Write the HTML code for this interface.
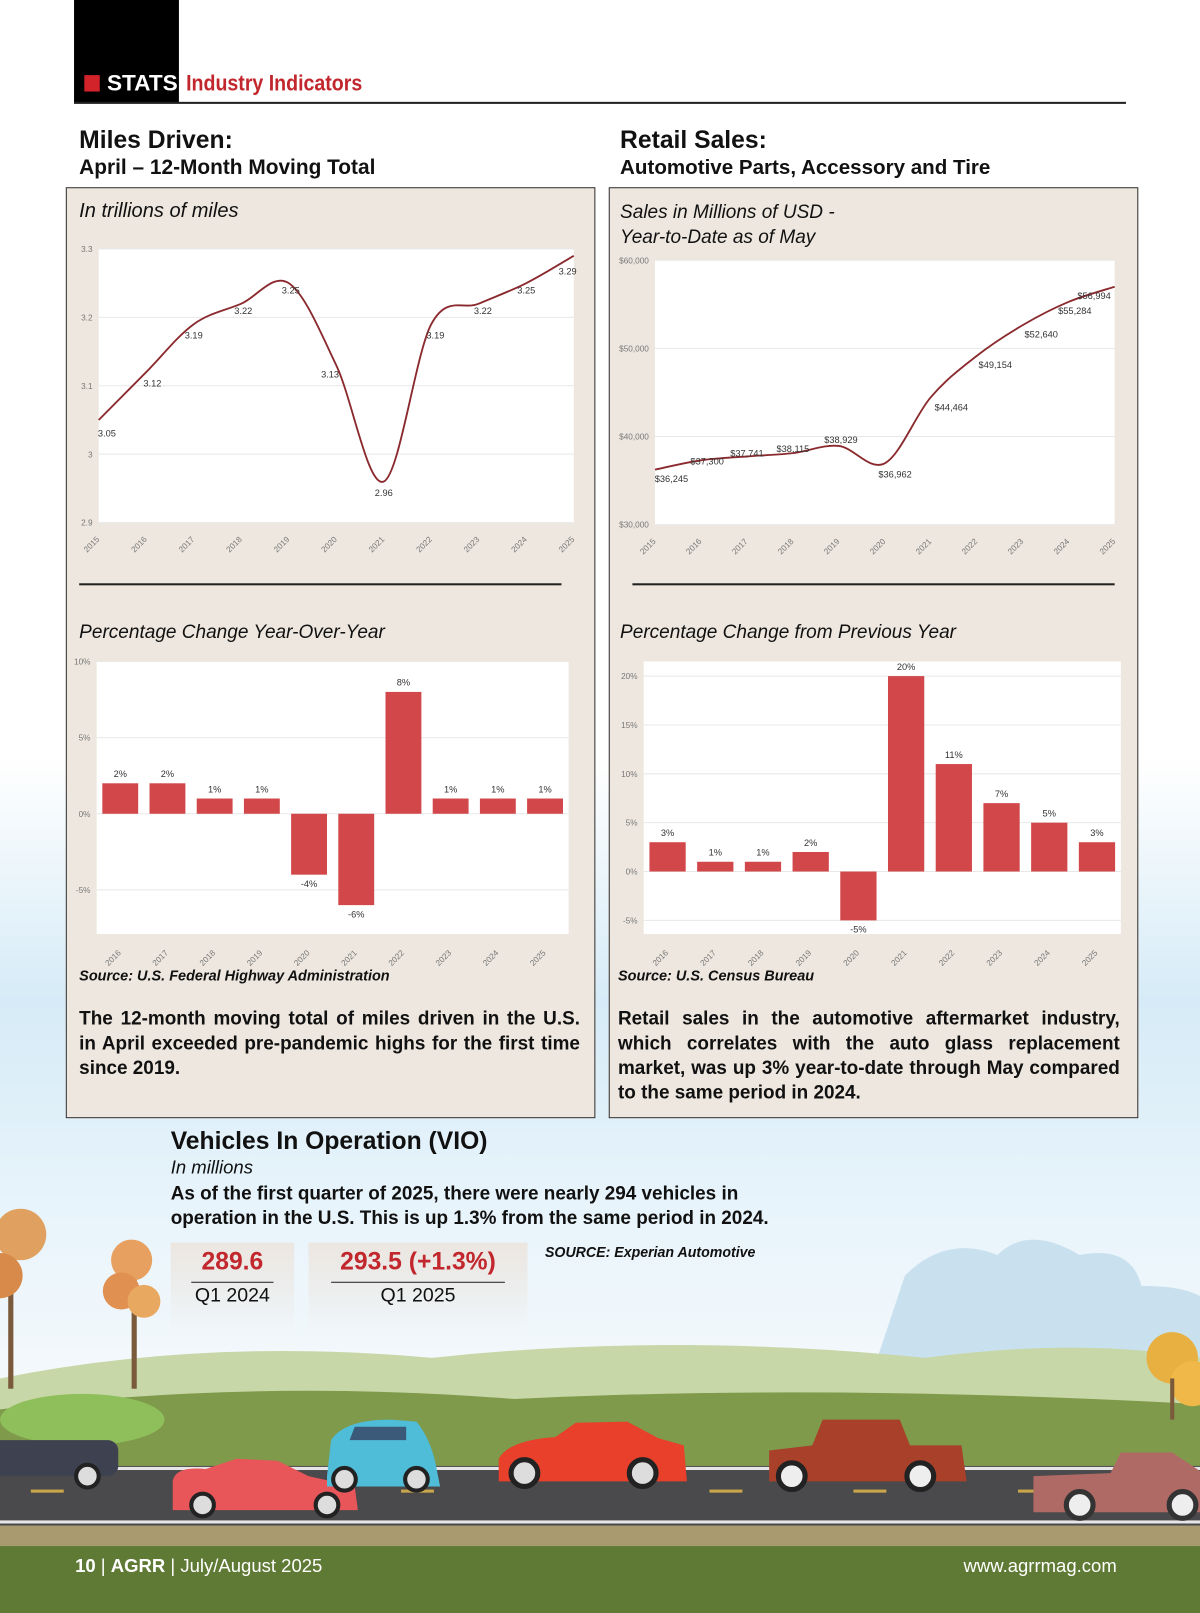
<!DOCTYPE html>
<html><head><meta charset="utf-8"><style>
html,body{margin:0;padding:0;width:1200px;height:1613px;overflow:hidden;background:#fff}
#wrap{position:absolute;left:0;top:0;width:1167px;height:1568px;transform:scale(1.02828,1.02870);transform-origin:0 0;font-family:"Liberation Sans",sans-serif;color:#111}
.abs{position:absolute}
.box{position:absolute;background:#ede7df;border:1.5px solid #333;box-sizing:border-box}
.it{font-style:italic}
.b{font-weight:bold}
.para{position:absolute;font-weight:bold;font-size:18.4px;line-height:24px}
.para .j{text-align:justify;text-align-last:justify;white-space:nowrap}
svg text{font-family:"Liberation Sans",sans-serif}
</style></head><body>
<div id="wrap">
<svg class="abs" style="left:0;top:0" width="1167" height="1568">
<defs>
<linearGradient id="sky" x1="0" y1="0" x2="0" y2="1"><stop offset="0" stop-color="#ffffff"/><stop offset="0.47" stop-color="#ffffff"/><stop offset="0.62" stop-color="#d6ebf7"/><stop offset="0.75" stop-color="#e8f4fb"/><stop offset="0.85" stop-color="#f3f8fb"/></linearGradient>
</defs>
<rect x="0" y="0" width="1167" height="1568" fill="url(#sky)"/>
<path d="M880 1240 q40-40 90-20 q30-30 80 0 q50-10 60 30 q40 0 57 10 L1167 1330 L850 1330 Z" fill="#c9e1ef"/>
<path d="M0 1340 Q200 1300 420 1320 Q650 1295 900 1320 Q1050 1300 1167 1320 L1167 1568 L0 1568 Z" fill="#c8d7a8"/>
<path d="M0 1370 Q250 1340 500 1360 Q800 1345 1167 1365 L1167 1568 L0 1568 Z" fill="#7f9a4a"/>
<ellipse cx="80" cy="1380" rx="80" ry="25" fill="#8fbf5a"/>
<rect x="0" y="1425" width="1167" height="58" fill="#4a4a4c"/>
<rect x="0" y="1426" width="1167" height="3" fill="#e6e6e6"/>
<rect x="0" y="1478" width="1167" height="3" fill="#e6e6e6"/>
<rect x="0" y="1483" width="1167" height="20" fill="#a99a70"/>
<rect x="0" y="1503" width="1167" height="65" fill="#5f7a34"/>
<g fill="#c9a64a"><rect x="30" y="1448" width="32" height="3"/><rect x="190" y="1448" width="32" height="3"/><rect x="390" y="1448" width="32" height="3"/><rect x="690" y="1448" width="32" height="3"/><rect x="830" y="1448" width="32" height="3"/><rect x="990" y="1448" width="32" height="3"/></g>
<g><rect x="8" y="1240" width="5" height="110" fill="#7a5a3a"/><circle cx="20" cy="1200" r="25" fill="#e0a060"/><circle cx="0" cy="1240" r="22" fill="#d88a4a"/><rect x="128" y="1240" width="5" height="110" fill="#7a5a3a"/><circle cx="128" cy="1225" r="20" fill="#e8a060"/><circle cx="118" cy="1255" r="18" fill="#e09050"/><circle cx="140" cy="1265" r="16" fill="#e8a860"/></g>
<g><circle cx="1140" cy="1320" r="25" fill="#e8b040"/><circle cx="1160" cy="1345" r="22" fill="#f0b848"/><rect x="1138" y="1340" width="4" height="40" fill="#7a5a3a"/></g>
<g><rect x="-10" y="1400" width="125" height="35" rx="10" fill="#3d4150"/><circle cx="85" cy="1435" r="11" fill="#ddd" stroke="#222" stroke-width="4"/></g>
<g><path d="M168 1440 Q170 1425 200 1428 L230 1418 L270 1420 L300 1435 L345 1445 L348 1468 L168 1468 Z" fill="#e8565a"/><circle cx="197" cy="1463" r="11" fill="#ddd" stroke="#222" stroke-width="4"/><circle cx="318" cy="1463" r="11" fill="#ddd" stroke="#222" stroke-width="4"/></g>
<g><path d="M318 1435 L322 1400 Q335 1380 380 1380 L405 1382 Q420 1400 425 1430 L428 1445 L318 1445 Z" fill="#4fbcd8"/><path d="M340 1400 L345 1387 L395 1387 L395 1400 Z" fill="#3b5a7a"/><circle cx="335" cy="1438" r="11" fill="#ddd" stroke="#222" stroke-width="4"/><circle cx="405" cy="1438" r="11" fill="#ddd" stroke="#222" stroke-width="4"/></g>
<g><path d="M485 1418 Q495 1400 540 1397 L560 1383 L610 1382 L640 1398 L665 1405 L668 1440 L485 1440 Z" fill="#e8402a"/><circle cx="510" cy="1432" r="13" fill="#ddd" stroke="#222" stroke-width="5"/><circle cx="625" cy="1432" r="13" fill="#ddd" stroke="#222" stroke-width="5"/></g>
<g><path d="M748 1410 L790 1405 L800 1380 L875 1380 L885 1405 L935 1405 L940 1440 L748 1440 Z" fill="#a8402a"/><circle cx="770" cy="1435" r="13" fill="#eee" stroke="#222" stroke-width="5"/><circle cx="895" cy="1435" r="13" fill="#eee" stroke="#222" stroke-width="5"/></g>
<g><path d="M1005 1435 L1080 1432 L1090 1412 L1140 1412 L1167 1430 L1167 1470 L1005 1470 Z" fill="#b06a66"/><circle cx="1050" cy="1463" r="13" fill="#eee" stroke="#333" stroke-width="5"/><circle cx="1150" cy="1463" r="13" fill="#eee" stroke="#333" stroke-width="5"/></g>
</svg>

<div class="abs" style="left:72px;top:0;width:102px;height:100px;background:#000"></div>
<div class="abs" style="left:82px;top:73px;width:15px;height:16px;background:#d2232a"></div>
<div class="abs b" style="left:104px;top:68px;font-size:22px;color:#fff">STATS</div>
<div class="abs b" style="left:181px;top:68px;font-size:22px;color:#c1272d;transform:scaleX(0.865);transform-origin:0 0">Industry Indicators</div>
<div class="abs" style="left:72px;top:99px;width:1023px;height:1.5px;background:#222"></div>

<div class="abs b" style="left:77px;top:123px;font-size:24px">Miles Driven:</div>
<div class="abs b" style="left:77px;top:152px;font-size:20.3px">April – 12-Month Moving Total</div>
<div class="abs b" style="left:603px;top:123px;font-size:24px">Retail Sales:</div>
<div class="abs b" style="left:603px;top:152px;font-size:20px">Automotive Parts, Accessory and Tire</div>

<div class="box" style="left:64px;top:182px;width:515px;height:905px"></div>
<div class="box" style="left:592px;top:182px;width:515px;height:905px"></div>

<div class="abs it" style="left:77px;top:194px;font-size:19.5px">In trillions of miles</div>
<div class="abs it" style="left:603px;top:194px;font-size:18.5px;line-height:24px">Sales in Millions of USD -<br>Year-to-Date as of May</div>
<div class="abs" style="left:77px;top:567px;width:469px;height:1.5px;background:#222"></div>
<div class="abs" style="left:615px;top:567px;width:469px;height:1.5px;background:#222"></div>
<div class="abs it" style="left:77px;top:603px;font-size:18.5px">Percentage Change Year-Over-Year</div>
<div class="abs it" style="left:603px;top:603px;font-size:18.5px">Percentage Change from Previous Year</div>

<svg id="c1" class="abs" style="left:64px;top:230px" width="515" height="320"></svg>
<svg id="c2" class="abs" style="left:592px;top:240px" width="515" height="310"></svg>
<svg id="c3" class="abs" style="left:64px;top:635px" width="515" height="305"></svg>
<svg id="c4" class="abs" style="left:592px;top:635px" width="515" height="305"></svg>

<div class="abs it" style="left:77px;top:941px;font-size:14.5px;font-weight:bold;transform:scaleX(0.97);transform-origin:0 0">Source: U.S. Federal Highway Administration</div>
<div class="abs it" style="left:601px;top:941px;font-size:14.5px;font-weight:bold;transform:scaleX(0.97);transform-origin:0 0">Source: U.S. Census Bureau</div>
<div class="para" style="left:77px;top:978px;width:487px"><div class="j">The 12-month moving total of miles driven in the U.S.</div><div class="j">in April exceeded pre-pandemic highs for the first time</div><div>since 2019.</div></div>
<div class="para" style="left:601px;top:978px;width:488px"><div class="j">Retail sales in the automotive aftermarket industry,</div><div class="j">which correlates with the auto glass replacement</div><div class="j">market, was up 3% year-to-date through May compared</div><div>to the same period in 2024.</div></div>

<div class="abs b" style="left:166px;top:1096px;font-size:24px">Vehicles In Operation (VIO)</div>
<div class="abs it" style="left:166px;top:1125px;font-size:18px">In millions</div>
<div class="abs b" style="left:166px;top:1148px;font-size:18.4px;line-height:24px;width:600px">As of the first quarter of 2025, there were nearly 294 vehicles in<br>operation in the U.S. This is up 1.3% from the same period in 2024.</div>
<div class="abs" style="left:166px;top:1208px;width:120px;height:90px;background:linear-gradient(#ece6e0,rgba(236,230,224,0))">
 <div style="text-align:center;color:#c1272d;font-weight:bold;font-size:24px;margin-top:5px">289.6</div>
 <div style="margin:5px 20px 0;border-top:1.5px solid #222"></div>
 <div style="text-align:center;font-size:19px;margin-top:2px">Q1 2024</div>
</div>
<div class="abs" style="left:300px;top:1208px;width:213px;height:90px;background:linear-gradient(#ece6e0,rgba(236,230,224,0))">
 <div style="text-align:center;color:#c1272d;font-weight:bold;font-size:24px;margin-top:5px">293.5 (+1.3%)</div>
 <div style="margin:5px 22px 0;border-top:1.5px solid #222"></div>
 <div style="text-align:center;font-size:19px;margin-top:2px">Q1 2025</div>
</div>
<div class="abs it" style="left:530px;top:1210px;font-size:14.5px;font-weight:bold;transform:scaleX(0.95);transform-origin:0 0">SOURCE: Experian Automotive</div>

<div class="abs" style="left:73px;top:1512px;font-size:18px;color:#fff"><b>10</b> | <b>AGRR</b> | July/August 2025</div>
<div class="abs" style="left:937px;top:1512px;font-size:18px;color:#fff">www.agrrmag.com</div>
</div>

<script>
const milesYears=["2015","2016","2017","2018","2019","2020","2021","2022","2023","2024","2025"];
const milesValues=[3.05,3.12,3.19,3.22,3.25,3.13,2.96,3.19,3.22,3.25,3.29];
const milesTicks=[2.9,3,3.1,3.2,3.3];
const salesYears=["2015","2016","2017","2018","2019","2020","2021","2022","2023","2024","2025"];
const salesValues=[36245,37300,37741,38115,38929,36962,44464,49154,52640,55284,56994];
const salesTicks=[30000,40000,50000,60000];
const milesPctYears=["2016","2017","2018","2019","2020","2021","2022","2023","2024","2025"];
const milesPctValues=[2,2,1,1,-4,-6,8,1,1,1];
const milesPctTicks=[10,5,0,-5];
const salesPctYears=["2016","2017","2018","2019","2020","2021","2022","2023","2024","2025"];
const salesPctValues=[3,1,1,2,-5,20,11,7,5,3];
const salesPctTicks=[20,15,10,5,0,-5];

const NS="http://www.w3.org/2000/svg";
function mk(svg,tag,attrs,txt){const e=document.createElementNS(NS,tag);for(const k in attrs)e.setAttribute(k,attrs[k]);if(txt!==undefined)e.textContent=txt;svg.appendChild(e);return e;}

function lineChart(id,years,vals,ticks,p,fmt,tickFmt,labelOffsets){
  const svg=document.getElementById(id);
  const x=i=>p.l+(p.r-p.l)*i/(years.length-1);
  const y=v=>p.b-(p.b-p.t)*(v-p.min)/(p.max-p.min);
  const bg=mk(svg,'rect',{x:p.l,y:p.t,width:p.r-p.l,height:p.b-p.t,fill:'#fff'});
  
  
  ticks.forEach(t=>{
    const g=mk(svg,'line',{x1:p.l,x2:p.r,y1:y(t),y2:y(t),stroke:'#e8e8e8','stroke-width':1});
    
    
    const tl=mk(svg,'text',{x:p.l-6,y:y(t)+3,'font-size':8,fill:'#777','text-anchor':'end'},tickFmt(t));
    
    
  });
  years.forEach((yr,i)=>{
    const t=mk(svg,'text',{x:x(i),y:p.b+14,'font-size':8,fill:'#777','text-anchor':'end',transform:`rotate(-45 ${x(i)+4} ${p.b+14})`},yr);
    
    
  });
  const pts=vals.map((v,i)=>[x(i),y(v)]);
  let d=`M${pts[0][0]},${pts[0][1]}`;
  for(let i=0;i<pts.length-1;i++){
    const p0=pts[Math.max(0,i-1)],p1=pts[i],p2=pts[i+1],p3=pts[Math.min(pts.length-1,i+2)];
    const c1=[p1[0]+(p2[0]-p0[0])/6,p1[1]+(p2[1]-p0[1])/6];
    const c2=[p2[0]-(p3[0]-p1[0])/6,p2[1]-(p3[1]-p1[1])/6];
    d+=` C${c1[0]},${c1[1]} ${c2[0]},${c2[1]} ${p2[0]},${p2[1]}`;
  }
  const path=mk(svg,'path',{d:d,fill:'none',stroke:'#8b2a2e','stroke-width':1.8});
  
  
  vals.forEach((v,i)=>{
    const o=labelOffsets[i];
    const t=mk(svg,'text',{x:x(i)+o[0],y:y(v)+o[1],'font-size':9,fill:'#333','text-anchor':'middle'},fmt(v));
    
    
  });
}
lineChart('c1',milesYears,milesValues,milesTicks,{l:32,r:494,t:12,b:278,min:2.9,max:3.3},
  v=>v.toFixed(2),t=>String(t),
  [[8,16],[6,14],[0,14],[2,10],[2,10],[-6,12],[0,14],[4,14],[4,10],[0,10],[-6,18]]);
lineChart('c2',salesYears,salesValues,salesTicks,{l:45,r:492,t:13,b:270,min:30000,max:60000},
  v=>'$'+v.toLocaleString('en-US'),t=>'$'+t.toLocaleString('en-US'),
  [[16,12],[6,4],[0,0],[0,-1],[2,-3],[10,14],[20,13],[18,12],[18,12],[6,12],[-20,12]]);

function barChart(id,cats,vals,ticks,p,labelFmt){
  const svg=document.getElementById(id);
  const n=cats.length,bw=(p.r-p.l)/n;
  const y=v=>p.b-(p.b-p.t)*(v-p.min)/(p.max-p.min);
  const bg=mk(svg,'rect',{x:p.l,y:p.t,width:p.r-p.l,height:p.b-p.t,fill:'#fff'});
  
  
  ticks.forEach(t=>{
    const g=mk(svg,'line',{x1:p.l,x2:p.r,y1:y(t),y2:y(t),stroke:'#e8e8e8','stroke-width':1});
    
    
    const tl=mk(svg,'text',{x:p.l-6,y:y(t)+3,'font-size':8,fill:'#777','text-anchor':'end'},t+'%');
    
    
  });
  cats.forEach((c,i)=>{
    const cx=p.l+bw*(i+0.5),v=vals[i];
    const top=Math.min(y(v),y(0)),h=Math.abs(y(v)-y(0));
    const r=mk(svg,'rect',{x:cx-bw*0.38,y:top,width:bw*0.76,height:h,fill:'#d2474a'});
    
    
    const ly=v>=0?y(v)-6:y(v)+12;
    const t=mk(svg,'text',{x:cx,y:ly,'font-size':9,fill:'#333','text-anchor':'middle'},labelFmt(v));
    
    
    const xl=mk(svg,'text',{x:cx,y:p.b+16,'font-size':8,fill:'#777','text-anchor':'end',transform:`rotate(-45 ${cx+4} ${p.b+16})`},c);
    
    
  });
}
barChart('c3',milesPctYears,milesPctValues,milesPctTicks,{l:30,r:489,t:8,b:273,min:-7.9,max:10},v=>v+'%');
barChart('c4',salesPctYears,salesPctValues,salesPctTicks,{l:34,r:498,t:8,b:273,min:-6.4,max:21.5},v=>v+'%');
</script>
</body></html>
